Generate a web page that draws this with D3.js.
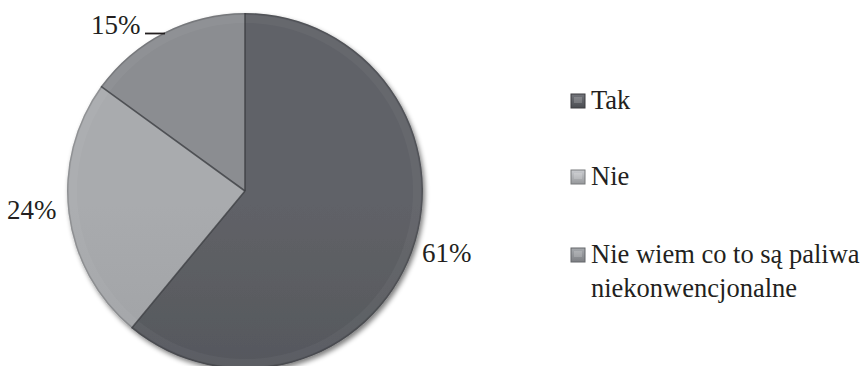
<!DOCTYPE html>
<html><head><meta charset="utf-8">
<script src="https://cdn.jsdelivr.net/npm/d3@7"></script>
<style>html,body{margin:0;padding:0;background:#fff;}svg{display:block;}</style>
</head><body>
<svg id="chart" width="868" height="366"></svg>
<script>
const categories = ["Tak", "Nie", "Nie wiem co to są paliwa niekonwencjonalne"];
const values = [61, 24, 15];
const valueLabels = ["61%", "24%", "15%"];
const legendLines = [["Tak"], ["Nie"], ["Nie wiem co to są paliwa", "niekonwencjonalne"]];
const colorsTop = ["#606267", "#a9abae", "#8b8d91"];
const colorsBottom = ["#4a4c51", "#96989b", "#7d7f83"];
const FONT = '"Liberation Serif", "Times New Roman", Tinos, serif';

const svg = d3.select("#chart");
const cx = 245, cy = 191, R = 178;
const defs = svg.append("defs");

const sh = defs.append("filter").attr("id","shadow").attr("x","-20%").attr("y","-20%").attr("width","140%").attr("height","140%");
sh.append("feGaussianBlur").attr("in","SourceAlpha").attr("stdDeviation",2.5).attr("result","b");
sh.append("feOffset").attr("in","b").attr("dx",2).attr("dy",3).attr("result","o");
sh.append("feComponentTransfer").attr("in","o").attr("result","o2").append("feFuncA").attr("type","linear").attr("slope",0.5);
const m = sh.append("feMerge"); m.append("feMergeNode").attr("in","o2"); m.append("feMergeNode").attr("in","SourceGraphic");

categories.forEach((c,i)=>{
  const g = defs.append("linearGradient").attr("id","g"+i).attr("gradientUnits","userSpaceOnUse")
    .attr("x1",0).attr("y1",cy-R).attr("x2",0).attr("y2",cy+R);
  g.append("stop").attr("offset","0%").attr("stop-color",colorsTop[i]);
  g.append("stop").attr("offset","100%").attr("stop-color",colorsBottom[i]);
  const lg = defs.append("linearGradient").attr("id","lg"+i).attr("x1",0).attr("y1",0).attr("x2",0).attr("y2",1);
  lg.append("stop").attr("offset","0%").attr("stop-color",d3.color(colorsTop[i]).brighter(0.5));
  lg.append("stop").attr("offset","100%").attr("stop-color",colorsBottom[i]);
});

const pie = d3.pie().sort(null).value(d=>d);
const arcs = pie(values);
const arc = d3.arc().innerRadius(0).outerRadius(R);
const bevel = d3.arc().innerRadius(R-10).outerRadius(R-2);
const rim = d3.arc().innerRadius(R-1.5).outerRadius(R);

const g = svg.append("g").attr("transform",`translate(${cx},${cy})`);
g.append("g").attr("filter","url(#shadow)").selectAll("path.slice").data(arcs).join("path").attr("class","slice")
  .attr("d",arc).attr("fill",(d,i)=>`url(#g${i})`);
g.selectAll("path.bevel").data(arcs).join("path").attr("class","bevel")
  .attr("d",bevel).attr("fill","#ffffff").attr("opacity",0.04);
g.selectAll("path.rim").data(arcs).join("path").attr("class","rim")
  .attr("d",rim).attr("fill","#000000").attr("opacity",0.15);
g.selectAll("line.sep").data(arcs).join("line").attr("class","sep")
  .attr("x1",0).attr("y1",0)
  .attr("x2",d=>R*Math.sin(d.startAngle)).attr("y2",d=>-R*Math.cos(d.startAngle))
  .attr("stroke","#3c3e42").attr("stroke-width",1.6).attr("opacity",0.8);

const labelPos = [[422, 262], [7, 219], [91, 34]];
svg.selectAll("text.lbl").data(arcs).join("text").attr("class","lbl")
  .attr("x",(d,i)=>labelPos[i][0]).attr("y",(d,i)=>labelPos[i][1])
  .style("font-family",FONT).attr("font-size",27).attr("fill","#231f20").text((d,i)=>valueLabels[i]);
svg.append("line").attr("x1",145).attr("x2",165).attr("y1",33.5).attr("y2",33.5)
  .attr("stroke","#231f20").attr("stroke-width",1.8);

const rows = [109, 185, 263];
categories.forEach((c,i)=>{
  const y = rows[i];
  svg.append("rect").attr("x",571).attr("y",y-15).attr("width",14).attr("height",14)
    .attr("fill",`url(#lg${i})`).attr("stroke",d3.color(colorsBottom[i]).darker(0.6)).attr("stroke-width",1);
  svg.append("rect").attr("x",574).attr("y",y-12).attr("width",8).attr("height",6)
    .attr("fill","#fff").attr("opacity",0.18);
  legendLines[i].forEach((l,j)=>{
    svg.append("text").attr("x",591).attr("y",y+j*34).style("font-family",FONT)
      .attr("font-size",26.5).attr("fill","#231f20").text(l);
  });
});
</script>
</body></html>
